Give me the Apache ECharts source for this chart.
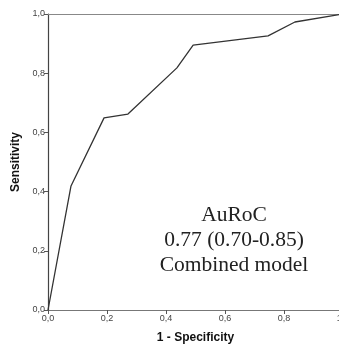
<!DOCTYPE html>
<html><head><meta charset="utf-8">
<script src="https://cdn.jsdelivr.net/npm/echarts@6/dist/echarts.min.js"></script>
<style>html,body{margin:0;padding:0;background:#fff}#c{width:339px;height:349px}</style>
</head><body><div id="c"></div>
<script>
var fpr = [0, 0.078, 0.19, 0.271, 0.437, 0.492, 0.746, 0.837, 1.0];
var tpr = [0, 0.419, 0.649, 0.662, 0.818, 0.895, 0.926, 0.973, 1.0];
var tickValues = [0, 0.2, 0.4, 0.6, 0.8, 1.0];
var xTitle = '1 - Specificity';
var yTitle = 'Sensitivity';
var annotation = ['AuRoC', '0.77 (0.70-0.85)', 'Combined model'];

var pts = fpr.map(function (x, i) { return [x, tpr[i]]; });
function fmt(v) { return v.toFixed(1).replace('.', ','); }
var labelStyle = { color: '#444', fontSize: 9, fontFamily: 'Liberation Sans, Arial, sans-serif', formatter: fmt };

var chart = echarts.init(document.getElementById('c'));
chart.setOption({
  animation: false,
  grid: { left: 48, top: 14, width: 295, height: 296, containLabel: false, outerBoundsMode: 'none' },
  xAxis: [{
    type: 'value', min: 0, max: 1, interval: 0.2,
    axisLine: { show: true, lineStyle: { color: '#777', width: 1.2 } },
    axisTick: { show: true, length: 4, lineStyle: { color: '#555' } },
    axisLabel: Object.assign({ margin: 4 }, labelStyle),
    splitLine: { show: false },
    name: xTitle, nameLocation: 'middle', nameGap: 22,
    nameTextStyle: { fontSize: 12, fontWeight: 'bold', color: '#111', fontFamily: 'Liberation Sans, Arial, sans-serif' }
  }, {
    type: 'value', min: 0, max: 1, position: 'top',
    axisLine: { show: true, onZero: false, lineStyle: { color: '#888', width: 1.2 } },
    axisTick: { show: false }, axisLabel: { show: false }, splitLine: { show: false }
  }],
  yAxis: {
    type: 'value', min: 0, max: 1, interval: 0.2,
    axisLine: { show: true, lineStyle: { color: '#444', width: 1.2 } },
    axisTick: { show: true, length: 4, lineStyle: { color: '#555' } },
    axisLabel: Object.assign({ margin: 3 }, labelStyle),
    splitLine: { show: false },
    name: yTitle, nameLocation: 'middle', nameGap: 23,
    nameTextStyle: { fontSize: 12, fontWeight: 'bold', color: '#111', fontFamily: 'Liberation Sans, Arial, sans-serif' }
  },
  series: [{
    type: 'line', data: pts, symbol: 'none', xAxisIndex: 0,
    lineStyle: { color: '#333', width: 1.3 }
  }],
  graphic: [{
    type: 'text', x: 234, y: 203,
    style: {
      text: annotation.join('\n'), textAlign: 'center',
      font: '21.5px "Liberation Serif", "Times New Roman", serif',
      lineHeight: 25, fill: '#222'
    }
  }]
});
</script></body></html>
